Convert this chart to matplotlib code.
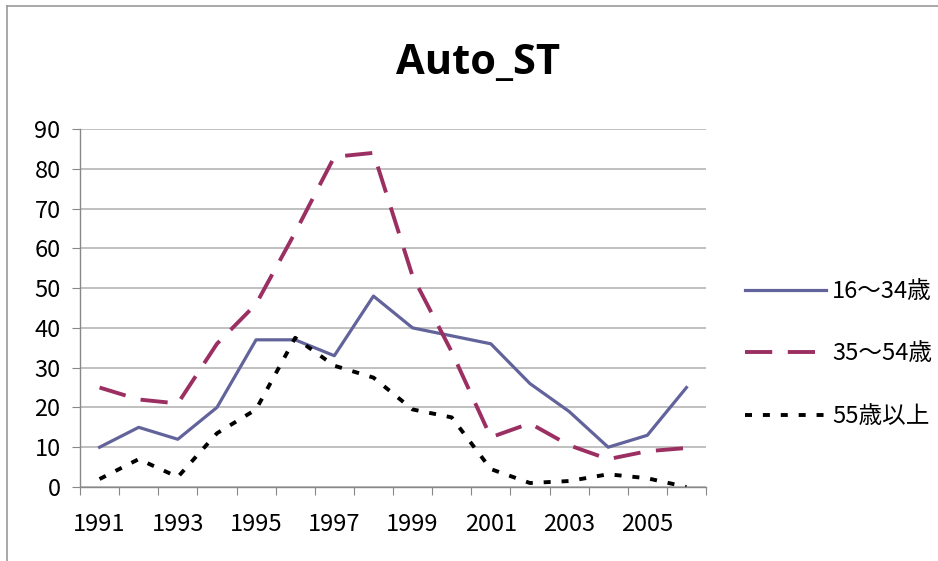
"""
Auto_ST: counts by age group, 1991-2006.
"""

import matplotlib.pyplot as plt
from matplotlib.lines import Line2D

YEARS = list(range(1991, 2007))
AGE_16_34 = [10, 15, 12, 20, 37, 37, 33, 48, 40, 38, 36, 26, 19, 10, 13, 25]
AGE_35_54 = [25, 22, 21, 36, 46, 64, 83, 84, 53, 34, 12.5, 16, 10.5, 7, 9, 9.8]
AGE_55_UP = [2, 7, 2.5, 13.5, 19.5, 37.5, 30.5, 27.5, 19.5, 17.5, 4.5, 1, 1.5, 3.2, 2.2, 0]
LABELS = ["16～34歳", "35～54歳", "55歳以上"]
Y_TICKS = list(range(0, 100, 10))

FONT = ["Noto Sans CJK JP", "DejaVu Sans"]
plt.rcParams["font.family"] = FONT


def main() -> None:
    fig = plt.figure(figsize=(9.38, 5.61), dpi=100)
    ax = fig.add_axes([80 / 938, 1 - 487 / 561, 626 / 938, 358 / 561])

    x = list(range(len(YEARS)))
    ax.plot(x, AGE_16_34, color="#62639B", lw=2.3, label=LABELS[0])
    ax.plot(x, AGE_35_54, color="#9B2F62", lw=2.8, dashes=(7, 4), label=LABELS[1])
    ax.plot(x, AGE_55_UP, color="black", lw=2.8, dashes=(1.8, 2.8), label=LABELS[2])

    ax.set_xlim(-0.5, len(YEARS) - 0.5)
    ax.set_ylim(0, 90)
    ax.set_yticks(Y_TICKS)
    ax.yaxis.grid(True, color="#BBBBBB", lw=1.3)
    ax.set_axisbelow(True)

    # category boundaries get tick marks, labels sit on every other year
    ax.set_xticks([i - 0.5 for i in range(len(YEARS) + 1)])
    ax.set_xticklabels([])
    ax.set_xticks(x[::2], minor=True)
    ax.set_xticklabels([str(y) for y in YEARS[::2]], minor=True)
    ax.tick_params(axis="x", which="major", length=6, color="#888888")
    ax.tick_params(axis="x", which="minor", length=0, pad=19, labelsize=17)
    ax.tick_params(axis="y", length=6, color="#888888", labelsize=17, pad=8)

    for side in ("top", "right"):
        ax.spines[side].set_visible(False)
    for side in ("left", "bottom"):
        ax.spines[side].set_color("#888888")
        ax.spines[side].set_linewidth(1.0)

    fig.text(478 / 938, 1 - 64 / 561, "Auto_ST", ha="center", va="center",
             fontsize=30, fontweight="bold", family=["Open Sans", "DejaVu Sans"])

    fig.legend(loc="center left", bbox_to_anchor=(745 / 938, 1 - 354 / 561),
               frameon=False, fontsize=17, handlelength=3.45, handletextpad=0.25,
               labelspacing=1.68, borderpad=0, borderaxespad=0)

    # chart-area border (top and left edges visible in the original)
    fig.add_artist(Line2D([7 / 938, 7 / 938], [0, 1 - 6 / 561],
                          transform=fig.transFigure, color="#999999", lw=1.2))
    fig.add_artist(Line2D([7 / 938, 1], [1 - 6 / 561, 1 - 6 / 561],
                          transform=fig.transFigure, color="#999999", lw=1.2))

    fig.savefig("out.png", dpi=100)
    plt.close(fig)


if __name__ == "__main__":
    main()
